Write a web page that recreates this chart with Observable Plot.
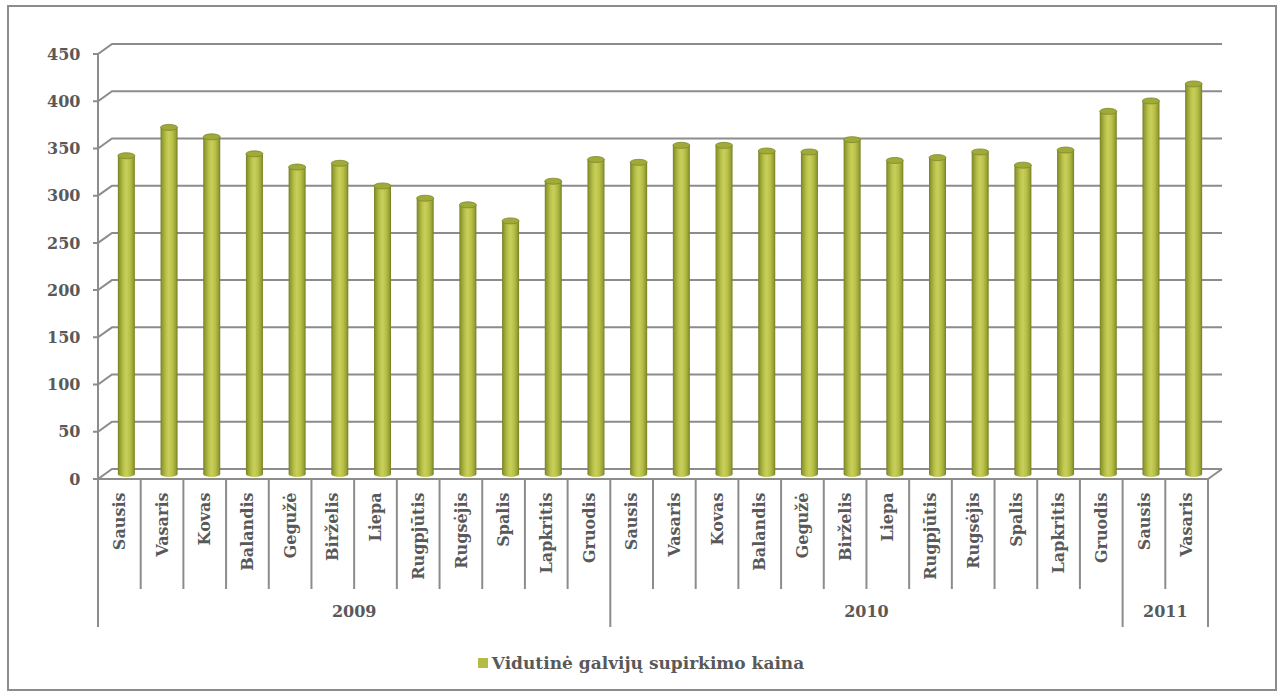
<!DOCTYPE html>
<html>
<head>
<meta charset="utf-8">
<script src="https://cdn.jsdelivr.net/npm/d3@7"></script>
<script src="https://cdn.jsdelivr.net/npm/@observablehq/plot@0.6"></script>
<style>
  body { margin: 0; background: #ffffff; }
  #wrap { position: relative; width: 1282px; height: 697px; overflow: hidden; background: #fff; }
  #border { position: absolute; left: 7px; top: 5px; width: 1270px; height: 686px; border: 2px solid #8c8c8c; box-sizing: border-box; }
  #chart { position: absolute; left: 0; top: 0; }
  #legend { position: absolute; left: 0; top: 652px; width: 1282px; text-align: center;
            font: bold 17px "DejaVu Serif", serif; color: #595959; line-height: 22px; }
  #legend .sw { display: inline-block; width: 10px; height: 10px; background: #b4bc46; margin-right: 4px; vertical-align: 1px; }
</style>
</head>
<body>
<div id="wrap">
  <div id="border"></div>
  <div id="chart"></div>
  <div id="legend"><span class="sw"></span><span id="legendText"></span></div>
</div>
<script>
// ---- data ----
const years = ["2009", "2010", "2011"];
const months2009 = ["Sausis","Vasaris","Kovas","Balandis","Gegužė","Birželis","Liepa","Rugpjūtis","Rugsėjis","Spalis","Lapkritis","Gruodis"];
const months2010 = ["Sausis","Vasaris","Kovas","Balandis","Gegužė","Birželis","Liepa","Rugpjūtis","Rugsėjis","Spalis","Lapkritis","Gruodis"];
const months2011 = ["Sausis","Vasaris"];
const values2009 = [337, 367, 357, 339, 325, 329, 305, 292, 285, 268, 310, 333];
const values2010 = [330, 348, 348, 342, 341, 354, 332, 335, 341, 327, 343, 384];
const values2011 = [395, 413];
const yTicks = [0, 50, 100, 150, 200, 250, 300, 350, 400, 450];
const seriesName = "Vidutinė galvijų supirkimo kaina";

const monthsByYear = [months2009, months2010, months2011];
const valuesByYear = [values2009, values2010, values2011];
const data = [];
years.forEach((yr, j) => monthsByYear[j].forEach((m, i) =>
  data.push({key: yr + "-" + i, year: yr, month: m, value: valuesByYear[j][i]})));
const keys = data.map(d => d.key);

document.getElementById("legendText").textContent = seriesName;

// ---- layout / style constants ----
const W = 1282, H = 640, ML = 98, MR = 74, MT = 54, MB = 161;
const GRID = "#8c8c8c";
const TEXT = "#595959";
const DX = 14, DY = 10;          // 3D depth offset of back wall
const BAR_W = 17;
const bandW = (W - ML - MR) / keys.length;
const INSET = (bandW - BAR_W) / 2;

function defsMark() {
  const defs = d3.create("svg:defs");
  const lg = defs.append("linearGradient").attr("id", "cyl")
    .attr("x1", 0).attr("x2", 1).attr("y1", 0).attr("y2", 0);
  [[0, "#768024"], [0.12, "#959f33"], [0.35, "#bdc54c"], [0.5, "#c8cf5b"],
   [0.7, "#b9c148"], [0.88, "#9aa436"], [1, "#747d23"]]
    .forEach(([o, c]) => lg.append("stop").attr("offset", o).attr("stop-color", c));
  return defs.node();
}

function frame3d(index, scales, values, dims) {
  const x = scales.x, y = scales.y;
  const bw = typeof x.bandwidth === "function" ? x.bandwidth() : x.bandwidth;
  const L = x(keys[0]), R = x(keys[keys.length - 1]) + bw;
  const y0 = y(0);
  const g = d3.create("svg:g");
  const lines = g.append("g").attr("fill", "none").attr("stroke", GRID).attr("stroke-width", 2);
  for (const t of yTicks) {
    const yy = y(t);
    lines.append("path").attr("d", `M${L - 5},${yy}H${L}l${DX},${-DY}H${R + DX}`);
  }
  lines.append("line").attr("x1", L).attr("x2", L).attr("y1", y(yTicks[yTicks.length - 1])).attr("y2", y0);
  lines.append("path").attr("d", `M${L},${y0}H${R}l${DX},${-DY}`);
  // category band separators
  const n = keys.length;
  for (let i = 0; i <= n; i++) {
    const xx = i < n ? x(keys[i]) : x(keys[n - 1]) + bw;
    const isYear = i === 0 || i === n || data[i].year !== data[i - 1].year;
    lines.append("line").attr("x1", xx).attr("x2", xx)
      .attr("y1", y0).attr("y2", y0 + (isYear ? 148 : 110));
  }
  // year labels
  for (const yr of years) {
    const ks = data.filter(d => d.year === yr).map(d => d.key);
    const cx = (x(ks[0]) + x(ks[ks.length - 1]) + bw) / 2;
    g.append("text").attr("x", cx).attr("y", y0 + 138)
      .attr("text-anchor", "middle").attr("fill", TEXT).text(yr);
  }
  return g.node();
}

const barPos = {x: "key", insetLeft: INSET, insetRight: INSET, dx: 7, dy: -5};

const chart = Plot.plot({
  width: W,
  height: H,
  marginLeft: ML,
  marginRight: MR,
  marginTop: MT,
  marginBottom: MB,
  style: {fontFamily: "'DejaVu Serif', serif", fontSize: "16px", fontWeight: "bold", color: TEXT, background: "transparent", overflow: "visible"},
  x: {domain: keys, padding: 0, round: false, axis: null},
  y: {domain: [0, 450], ticks: yTicks, tickSize: 0, tickPadding: 18, label: null, tickFormat: d => String(d)},
  marks: [
    defsMark,
    frame3d,
    // cylinder base
    Plot.barY(data, {...barPos, y1: 0, y2: 0, insetTop: -3, insetBottom: -3,
      rx: BAR_W / 2, ry: 3, fill: "url(#cyl)"}),
    // cylinder body
    Plot.barY(data, {...barPos, y: "value", fill: "url(#cyl)"}),
    // cylinder top
    Plot.barY(data, {...barPos, y1: "value", y2: "value", insetTop: -3, insetBottom: -3,
      rx: BAR_W / 2, ry: 3, fill: "#a0aa38", stroke: "#7f882a", strokeWidth: 0.8}),
    // month labels
    Plot.text(data, {x: "key", frameAnchor: "bottom", text: "month", rotate: -90,
      textAnchor: "end", lineAnchor: "middle", dy: 13, fill: TEXT})
  ]
});

document.getElementById("chart").appendChild(chart);
</script>
</body>
</html>
